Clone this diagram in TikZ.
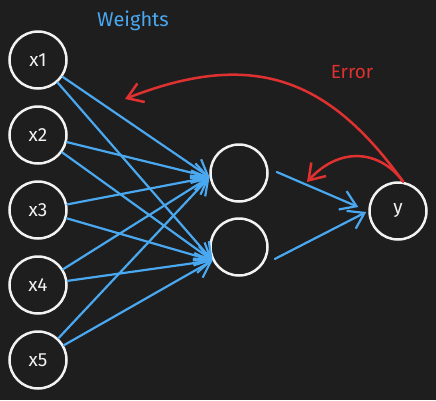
\documentclass[tikz,border=0pt]{standalone}
\usepackage{fontspec}
\setmainfont{Fira Sans}
\usetikzlibrary{arrows.meta}
\definecolor{bg}{HTML}{1E1E1E}
\definecolor{wblue}{HTML}{4AA8F0}
\definecolor{ered}{HTML}{E03131}
\definecolor{chalk}{HTML}{F2F2F2}

\begin{document}
\begin{tikzpicture}[x=1pt, y=-1pt,
    neuron/.style={circle, draw=chalk, line width=2.5pt, minimum size=57pt,
        inner sep=0pt, text=chalk, font=\fontsize{19}{19}\selectfont},
    wire/.style={draw=wblue, line width=2.2pt, line cap=round,
        -{Straight Barb[length=15pt,width=20pt,line width=2.2pt]}},
    back/.style={draw=ered, line width=2.5pt, line cap=round,
        -{Straight Barb[length=15pt,width=20pt,line width=2.5pt]}}]
\fill[bg] (0,0) rectangle (436,400);
\useasboundingbox (0,0) rectangle (436,400);

\node[neuron] (x1) at (38,60) {x1};
\node[neuron] (x2) at (38,135) {x2};
\node[neuron] (x3) at (38,210) {x3};
\node[neuron] (x4) at (38,285) {x4};
\node[neuron] (x5) at (38,360) {x5};
\node[neuron] (h1) at (239,173) {};
\node[neuron] (h2) at (239,247) {};
\node[neuron] (y) at (398,211) {y};

\draw[wire] (x1) -- (h1.188);
\draw[wire] (x1) -- (h2.207);
\draw[wire] (x2) -- (h1.188);
\draw[wire] (x2) -- (h2.207);
\draw[wire] (x3) -- (h1.188);
\draw[wire] (x3) -- (h2.207);
\draw[wire] (x4) -- (h1.188);
\draw[wire] (x4) -- (h2.207);
\draw[wire] (x5) -- (h1.188);
\draw[wire] (x5) -- (h2.207);

\draw[wire] ([shift={(8,-1)}]h1.east) -- ([shift={(-10,-4)}]y.west);
\draw[wire] ([shift={(6,12)}]h2.east) -- ([shift={(-2,1)}]y.west);

\coordinate (top) at (y.80);
\draw[back] (top) .. controls (330,80) and (255,48) .. (125,99);
\draw[back] (top) .. controls (380,150) and (340,146) .. (307,182);

\node[text=wblue, font=\fontsize{20}{20}\selectfont] (w) at (133,21) {Weights};
\node[text=ered, font=\fontsize{19}{19}\selectfont] (e) at (352,72) {Error};
\end{tikzpicture}
\end{document}
